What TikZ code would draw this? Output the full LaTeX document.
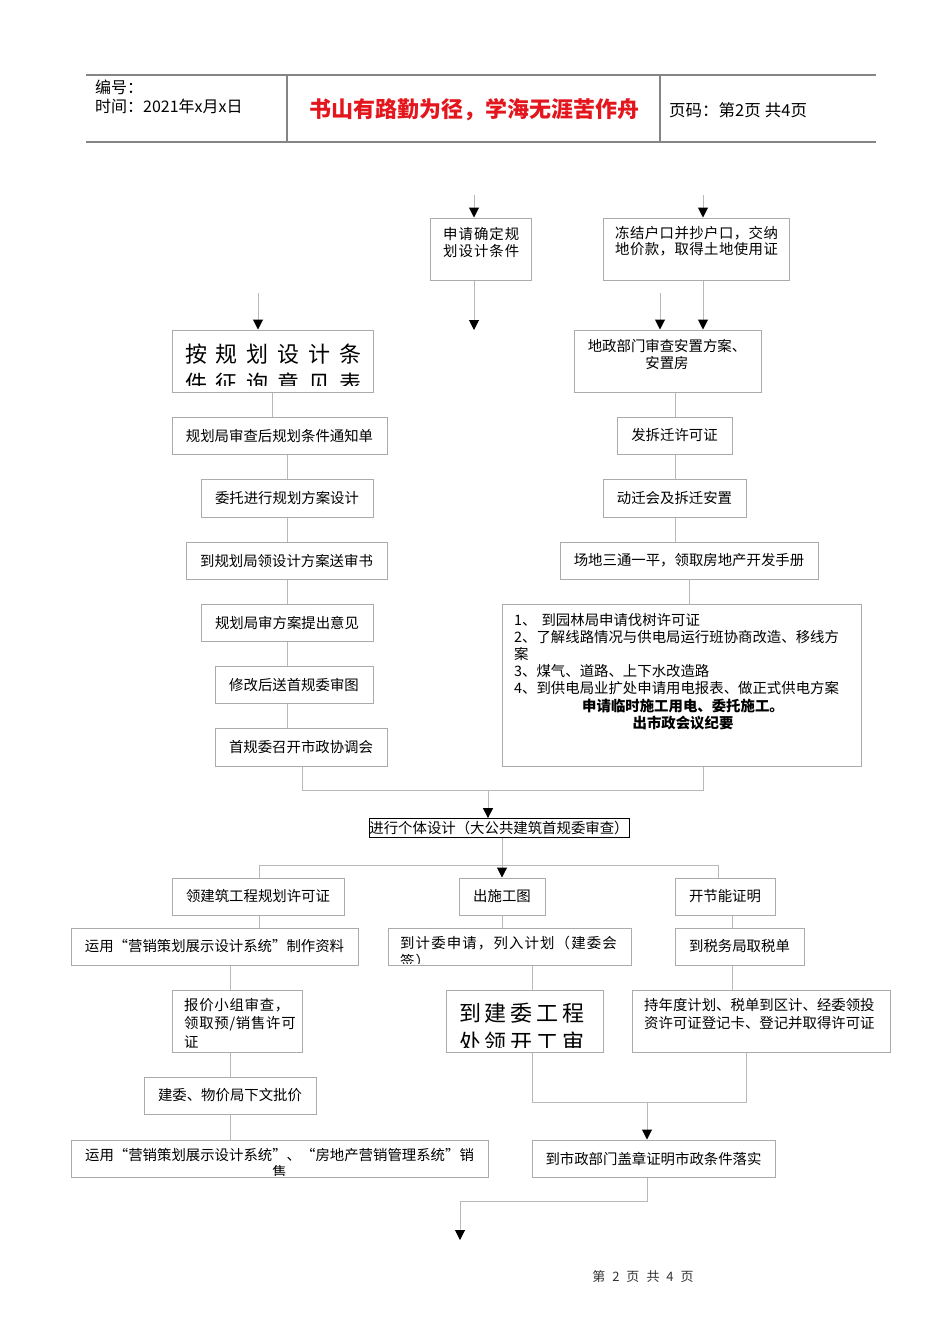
\documentclass[tikz,border=0pt]{standalone}
\usepackage{fontspec}
\setmainfont{Noto Sans CJK SC}
\usetikzlibrary{arrows.meta}
\definecolor{bgray}{HTML}{ABABAB}
\definecolor{lgray}{HTML}{B8B8B8}
\definecolor{hgray}{HTML}{858585}
\definecolor{hred}{HTML}{E3161D}
\newcommand\bx[6]{\node[box,minimum width={(#4-#2)*1pt},minimum height={(#5-#3)*1pt}] (#1) at ({(#2+#4)/2},{(#3+#5)/2}) {#6};}
\newcommand\fs[2]{\fontsize{#1}{#2}\selectfont}
\begin{document}
\begin{tikzpicture}[x=1pt,y=-1pt,
  box/.style={draw=bgray,line width=1pt,inner sep=0pt,font=\fs{14.4}{17}},
  txt/.style={inner sep=0pt,font=\fs{14.4}{17}},
  conn/.style={draw=lgray,line width=1pt},
  arr/.style={conn,-{Triangle[width=10pt,length=10pt,color=black]}}]
\useasboundingbox (0,0) rectangle (950,1344);
% header
\draw[hgray,line width=1.5pt] (86,75) -- (876,75);
\draw[hgray,line width=1.5pt] (86,142) -- (876,142);
\draw[hgray,line width=1.2pt] (287,75) -- (287,142);
\draw[hgray,line width=1.2pt] (660,75) -- (660,142);
\node[anchor=west,inner sep=0pt,font=\fs{16}{18}] (hno) at (95,87) {编号：};
\node[anchor=west,inner sep=0pt,font=\fs{16}{18}] (htime) at (95,106) {时间：2021年x月x日};
\node[inner sep=0pt,font=\fs{22}{24}\bfseries,text=hred] (htitle) at (474,110) {书山有路勤为径，学海无涯苦作舟};
\node[anchor=west,inner sep=0pt,font=\fs{16.5}{18}] (hpage) at (669,110) {页码：第2页\hspace{4pt}共4页};

% top boxes
\bx{sq}{430}{218}{531}{280}{}
\node[txt,anchor=north west,align=left,font=\fs{14.4}{17}\addfontfeatures{LetterSpace=7}] (sqt) at (443,227) {申请确定规\\划设计条件};
\bx{dj}{603}{218}{789}{280}{}
\node[txt,anchor=north west,align=left,font=\fs{14.4}{16}\addfontfeatures{LetterSpace=3}] (djt) at (615,226) {冻结户口并抄户口，交纳\\地价款，取得土地使用证};
\bx{ag}{172}{330}{373}{392}{}
\begin{scope}
\clip (173,331) rectangle (372,385);
\node[txt,anchor=north west,align=left,font=\fs{22}{29}\addfontfeatures{LetterSpace=40}] (agt) at (185,344) {按规划设计条\\件征询意见表};
\end{scope}
\bx{dz}{574}{330}{761}{392}{}
\node[txt,anchor=north,align=center] (dzt) at (667,339) {地政部门审查安置方案、\\安置房};

% left column
\bx{gh1}{172}{417}{387}{454}{规划局审查后规划条件通知单}
\bx{wt}{201}{479}{373}{517}{委托进行规划方案设计}
\bx{dg}{186}{542}{387}{579}{到规划局领设计方案送审书}
\bx{gs}{201}{604}{373}{641}{规划局审方案提出意见}
\bx{xg}{215}{666}{373}{703}{修改后送首规委审图}
\bx{sg}{215}{728}{387}{766}{首规委召开市政协调会}

% right column
\bx{fc}{617}{417}{732}{454}{发拆迁许可证}
\bx{dq}{603}{479}{746}{517}{动迁会及拆迁安置}
\bx{cd}{560}{542}{818}{579}{场地三通一平，领取房地产开发手册}
\bx{big}{502}{604}{861}{766}{}
\node[txt,anchor=north west,align=left] (bigt) at (514,613) {1、\hspace{5pt}到园林局申请伐树许可证\\2、了解线路情况与供电局运行班协商改造、移线方\\案\\3、煤气、道路、上下水改造路\\4、到供电局业扩处申请用电报表、做正式供电方案};
\node[txt,anchor=north,align=center,font=\fs{14.4}{17}\bfseries] (bigb) at (683,699) {申请临时施工用电、委托施工。\\出市政会议纪要};

% middle
\node[draw=black,line width=0.8pt,inner sep=0pt,minimum width=260pt,minimum height=19pt,font=\fs{14.4}{17}] (gt) at (499,828) {进行个体设计（大公共建筑首规委审查）};

% bottom rows
\bx{lj}{172}{878}{344}{915}{领建筑工程规划许可证}
\bx{cs}{459}{878}{545}{915}{出施工图}
\bx{kj}{675}{878}{775}{915}{开节能证明}
\bx{yy1}{71}{928}{358}{965}{运用“营销策划展示设计系统”制作资料}
\bx{jw}{388}{928}{631}{965}{}
\begin{scope}
\clip (389,929) rectangle (630,963);
\node[txt,anchor=north west,align=left,font=\fs{14.4}{18}\addfontfeatures{LetterSpace=8}] (jwt) at (400,936) {到计委申请，列入计划（建委会\\签）};
\end{scope}
\bx{ss}{675}{928}{804}{965}{到税务局取税单}
\bx{bj}{172}{990}{302}{1052}{}
\node[txt,anchor=north west,align=left,font=\fs{14.4}{18.5}\addfontfeatures{LetterSpace=5}] (bjt) at (184,998) {报价小组审查，\\领取预/销售许可\\证};
\bx{jg}{446}{990}{603}{1052}{}
\begin{scope}
\clip (447,991) rectangle (602,1047);
\node[txt,anchor=north west,align=left,font=\fs{22}{29}\addfontfeatures{LetterSpace=17}] (jgt) at (459,1003) {到建委工程\\处领开工审};
\end{scope}
\bx{cn}{632}{990}{890}{1052}{}
\node[txt,anchor=north west,align=left,font=\fs{14.4}{18}] (cnt) at (644,998) {持年度计划、税单到区计、经委领投\\资许可证登记卡、登记并取得许可证};
\bx{jj}{144}{1077}{316}{1114}{建委、物价局下文批价}
\bx{yy2}{71}{1140}{488}{1177}{}
\begin{scope}
\clip (72,1141) rectangle (487,1175);
\node[txt,anchor=north,align=center] (yy2t) at (279.5,1148) {运用“营销策划展示设计系统”、“房地产营销管理系统”销\\售};
\end{scope}
\bx{sz}{532}{1140}{775}{1177}{到市政部门盖章证明市政条件落实}

% footer
\node[inner sep=0pt,font=\fs{13}{15},text=black!80] (ft) at (643,1277) {第\hspace{7pt}2\hspace{7pt}页\hspace{7pt}共\hspace{7pt}4\hspace{7pt}页};

% coordinates
\coordinate (c1) at (474,195);
\coordinate (c2) at (703,195);
\coordinate (c3) at (660,293);
\coordinate (c4) at (258,293);
\coordinate (c5) at (474,330);
\coordinate (xL) at (287,0);
\coordinate (xR) at (675,0);
\coordinate (x689) at (689,0);
\coordinate (m1) at (302,790);
\coordinate (m2) at (703,790);
\coordinate (m3) at (488,790);
\coordinate (xC) at (502,0);
\coordinate (h1) at (259,865);
\coordinate (h2) at (718,865);
\coordinate (x732) at (732,0);
\coordinate (x230) at (230,0);
\coordinate (x532) at (532,0);
\coordinate (b1) at (532,1102);
\coordinate (b2) at (746,1102);
\coordinate (b3) at (647,1102);
\coordinate (e1) at (647,1201);
\coordinate (e2) at (460,1201);
\coordinate (e3) at (460,1240);

% connectors top
\draw[arr] (c1) -- (c1 |- sq.north);
\draw[arr] (sq.south -| c1) -- (c5);
\draw[arr] (c2) -- (c2 |- dj.north);
\draw[arr] (dj.south -| c2) -- (c2 |- dz.north);
\draw[arr] (c3) -- (c3 |- dz.north);
\draw[arr] (c4) -- (c4 |- ag.north);
% left column
\draw[conn] (ag.south) -- (ag.south |- gh1.north);
\draw[conn] (gh1.south -| xL) -- (wt.north -| xL);
\draw[conn] (wt.south -| xL) -- (dg.north -| xL);
\draw[conn] (dg.south -| xL) -- (gs.north -| xL);
\draw[conn] (gs.south -| xL) -- (xg.north -| xL);
\draw[conn] (xg.south -| xL) -- (sg.north -| xL);
% right column
\draw[conn] (dz.south -| xR) -- (fc.north -| xR);
\draw[conn] (fc.south -| xR) -- (dq.north -| xR);
\draw[conn] (dq.south -| xR) -- (cd.north -| xR);
\draw[conn] (cd.south -| x689) -- (big.north -| x689);
% merge
\draw[conn] (sg.south -| m1) -- (m1) -- (m2) -- (big.south -| m2);
\draw[arr] (m3) -- (m3 |- gt.north);
\draw[arr] (gt.south -| xC) -- (cs.north -| xC);
\draw[conn] (lj.north -| h1) -- (h1) -- (h2) -- (kj.north -| h2);
% lower rows
\draw[conn] (lj.south -| h1) -- (yy1.north -| h1);
\draw[conn] (cs.south -| xC) -- (jw.north -| xC);
\draw[conn] (kj.south -| x732) -- (ss.north -| x732);
\draw[conn] (yy1.south -| x230) -- (bj.north -| x230);
\draw[conn] (bj.south -| x230) -- (jj.north -| x230);
\draw[conn] (jj.south -| x230) -- (yy2.north -| x230);
\draw[conn] (jw.south -| x532) -- (jg.north -| x532);
\draw[conn] (ss.south -| x732) -- (cn.north -| x732);
\draw[conn] (jg.south -| b1) -- (b1) -- (b2) -- (cn.south -| b2);
\draw[arr] (b3) -- (b3 |- sz.north);
\draw[arr] (sz.south -| e1) -- (e1) -- (e2) -- (e3);
\end{tikzpicture}
\end{document}
